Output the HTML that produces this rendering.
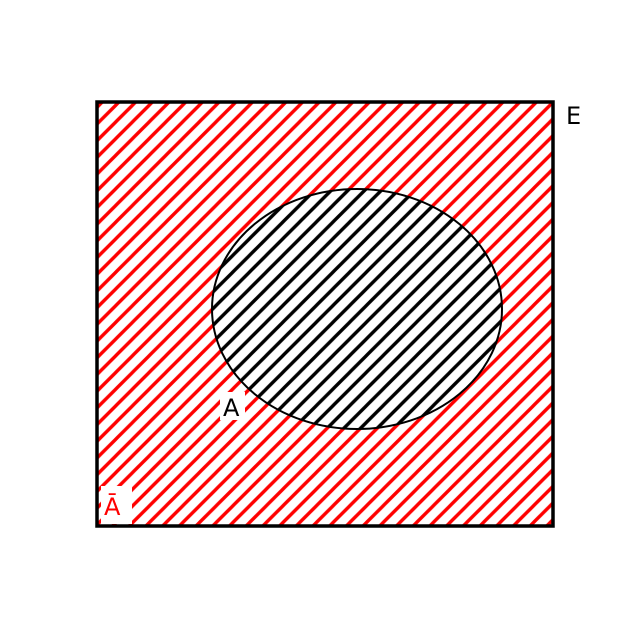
<!DOCTYPE html>
<html><head><meta charset="utf-8"><style>html,body{margin:0;padding:0;background:#fff}svg{display:block}</style></head>
<body>
<svg width="640" height="640" viewBox="0 0 640 640" font-family="'DejaVu Sans','Liberation Sans',sans-serif">
<defs>
<pattern id="hr" patternUnits="userSpaceOnUse" x="116" y="105" width="16.7" height="16.7">
<line x1="-2" y1="18.7" x2="18.7" y2="-2" stroke="#ff0000" stroke-width="3.4"/>
<line x1="-10" y1="10" x2="10" y2="-10" stroke="#ff0000" stroke-width="3.4"/>
<line x1="6.7" y1="26.7" x2="26.7" y2="6.7" stroke="#ff0000" stroke-width="3.4"/>
</pattern>
<pattern id="hb" patternUnits="userSpaceOnUse" x="116" y="105" width="16.7" height="16.7">
<line x1="-2" y1="18.7" x2="18.7" y2="-2" stroke="#000" stroke-width="3.4"/>
<line x1="-10" y1="10" x2="10" y2="-10" stroke="#000" stroke-width="3.4"/>
<line x1="6.7" y1="26.7" x2="26.7" y2="6.7" stroke="#000" stroke-width="3.4"/>
</pattern>
</defs>
<rect x="97" y="102" width="456" height="424" fill="url(#hr)"/>
<ellipse cx="357" cy="309" rx="145" ry="120" fill="#fff"/>
<ellipse cx="357" cy="309" rx="145" ry="120" fill="url(#hb)" stroke="#000" stroke-width="2"/>
<rect x="97" y="102" width="456" height="424" fill="none" stroke="#000" stroke-width="3.5"/>
<text x="566" y="124" font-size="24" fill="#000">E</text>
<rect x="220" y="392" width="25" height="28" fill="#fff"/>
<text x="223" y="416" font-size="24" fill="#000">A</text>
<rect x="101" y="486" width="31" height="38" fill="#fff"/>
<text x="104" y="515" font-size="24" fill="#ff0000">Ā</text>
</svg>
</body></html>
